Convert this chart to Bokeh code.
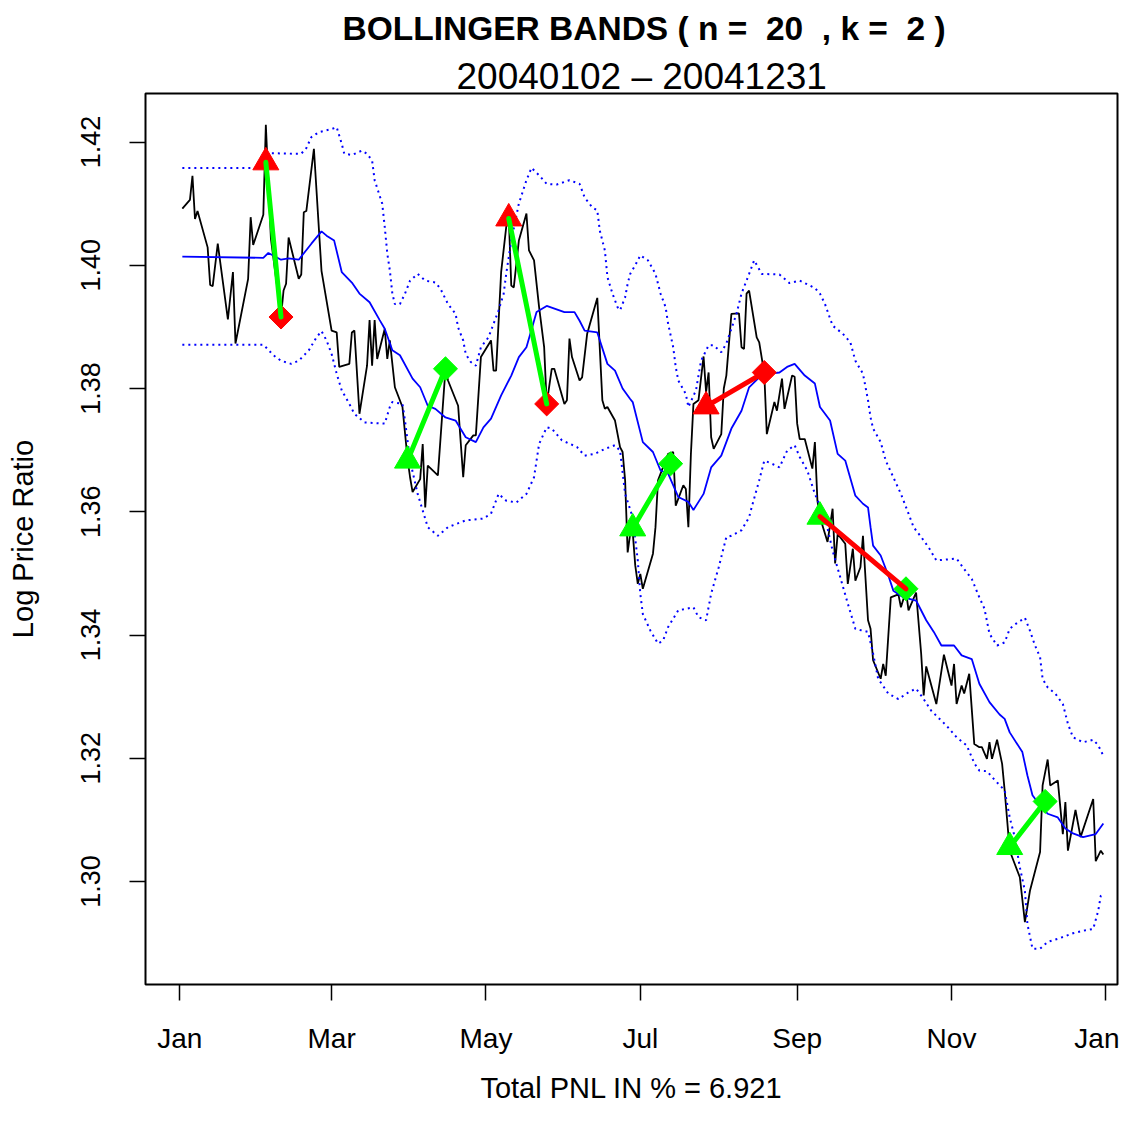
import numpy as np
import pandas as pd
from bokeh.plotting import figure
from bokeh.models import (Range1d, FixedTicker, DatetimeTickFormatter,
                          NumeralTickFormatter, Title)
from bokeh.embed import file_html
from bokeh.resources import INLINE

# ---------------- data ----------------
price_dates = [
    "2004-01-02", "2004-01-05", "2004-01-06", "2004-01-07", "2004-01-08", "2004-01-12", "2004-01-13",
    "2004-01-14", "2004-01-16", "2004-01-20", "2004-01-22", "2004-01-23", "2004-01-28", "2004-01-29",
    "2004-01-30", "2004-02-03", "2004-02-04", "2004-02-06", "2004-02-10", "2004-02-11", "2004-02-12",
    "2004-02-13", "2004-02-17", "2004-02-18", "2004-02-19", "2004-02-20", "2004-02-23", "2004-02-26",
    "2004-03-01", "2004-03-03", "2004-03-04", "2004-03-08", "2004-03-09", "2004-03-10", "2004-03-12",
    "2004-03-15", "2004-03-16", "2004-03-17", "2004-03-18", "2004-03-19", "2004-03-22", "2004-03-23",
    "2004-03-24", "2004-03-26", "2004-03-29", "2004-03-31", "2004-04-01", "2004-04-02", "2004-04-05",
    "2004-04-06", "2004-04-07", "2004-04-08", "2004-04-12", "2004-04-15", "2004-04-16", "2004-04-20",
    "2004-04-22", "2004-04-23", "2004-04-26", "2004-04-27", "2004-04-29", "2004-05-03", "2004-05-04",
    "2004-05-05", "2004-05-07", "2004-05-09", "2004-05-10", "2004-05-11", "2004-05-12", "2004-05-14",
    "2004-05-17", "2004-05-18", "2004-05-20", "2004-05-22", "2004-05-24", "2004-05-25", "2004-05-27",
    "2004-05-28", "2004-06-01", "2004-06-02", "2004-06-03", "2004-06-04", "2004-06-07", "2004-06-08",
    "2004-06-10", "2004-06-14", "2004-06-16", "2004-06-17", "2004-06-18", "2004-06-21", "2004-06-23",
    "2004-06-24", "2004-06-25", "2004-06-26", "2004-06-27", "2004-06-28", "2004-06-29", "2004-06-30",
    "2004-07-01", "2004-07-02", "2004-07-06", "2004-07-07", "2004-07-08", "2004-07-12", "2004-07-14",
    "2004-07-15", "2004-07-18", "2004-07-19", "2004-07-20", "2004-07-21", "2004-07-22", "2004-07-24",
    "2004-07-26", "2004-07-27", "2004-07-28", "2004-07-29", "2004-07-30", "2004-08-02", "2004-08-03",
    "2004-08-04", "2004-08-06", "2004-08-09", "2004-08-10", "2004-08-11", "2004-08-12", "2004-08-13",
    "2004-08-16", "2004-08-17", "2004-08-19", "2004-08-20", "2004-08-23", "2004-08-24", "2004-08-26",
    "2004-08-27", "2004-08-30", "2004-08-31", "2004-09-01", "2004-09-02", "2004-09-04", "2004-09-07",
    "2004-09-08", "2004-09-09", "2004-09-10", "2004-09-13", "2004-09-15", "2004-09-16", "2004-09-17",
    "2004-09-20", "2004-09-21", "2004-09-23", "2004-09-24", "2004-09-26", "2004-09-27", "2004-09-29",
    "2004-09-30", "2004-10-01", "2004-10-04", "2004-10-05", "2004-10-06", "2004-10-08", "2004-10-11",
    "2004-10-12", "2004-10-14", "2004-10-15", "2004-10-18", "2004-10-20", "2004-10-21", "2004-10-22",
    "2004-10-26", "2004-10-29", "2004-11-01", "2004-11-02", "2004-11-03", "2004-11-05", "2004-11-06",
    "2004-11-08", "2004-11-10", "2004-11-12", "2004-11-13", "2004-11-15", "2004-11-16", "2004-11-17",
    "2004-11-19", "2004-11-21", "2004-11-22", "2004-11-24", "2004-11-28", "2004-11-30", "2004-12-02",
    "2004-12-06", "2004-12-07", "2004-12-09", "2004-12-10", "2004-12-13", "2004-12-15", "2004-12-16",
    "2004-12-17", "2004-12-20", "2004-12-22", "2004-12-27", "2004-12-28", "2004-12-30", "2004-12-31",
]
price_values = [
    1.4092, 1.4106, 1.4145, 1.4075, 1.4088, 1.4029, 1.3968,
    1.3966, 1.4035, 1.3912, 1.3989, 1.3873, 1.3978, 1.4078,
    1.4033, 1.4082, 1.4228, 1.4043, 1.3917, 1.3959, 1.3970,
    1.4045, 1.3978, 1.3985, 1.4086, 1.4088, 1.4189, 1.3991,
    1.3894, 1.3891, 1.3835, 1.3840, 1.3891, 1.3894, 1.3759,
    1.3837, 1.3911, 1.3837, 1.3911, 1.3848, 1.3897, 1.3848,
    1.3878, 1.3802, 1.3770, 1.3686, 1.3656, 1.3632, 1.3653,
    1.3710, 1.3607, 1.3675, 1.3659, 1.3832, 1.3813, 1.3772,
    1.3656, 1.3708, 1.3724, 1.3724, 1.3851, 1.3878, 1.3829,
    1.3829, 1.3989, 1.4062, 1.4081, 1.3967, 1.3964, 1.4040,
    1.4084, 1.4024, 1.4008, 1.3932, 1.3867, 1.3775, 1.3832,
    1.3832, 1.3775, 1.3781, 1.3881, 1.3851, 1.3813, 1.3818,
    1.3889, 1.3947, 1.3781, 1.3767, 1.3770, 1.3748, 1.3705,
    1.3697, 1.3651, 1.3534, 1.3564, 1.3567, 1.3513, 1.3483,
    1.3499, 1.3475, 1.3532, 1.3575, 1.3651, 1.3694, 1.3697,
    1.3610, 1.3643, 1.3637, 1.3575, 1.3694, 1.3775, 1.3781,
    1.3852, 1.3794, 1.3826, 1.3721, 1.3702, 1.3726, 1.3800,
    1.3821, 1.3921, 1.3922, 1.3867, 1.3864, 1.3954, 1.3959,
    1.3883, 1.3875, 1.3824, 1.3726, 1.3778, 1.3764, 1.3816,
    1.3767, 1.3821, 1.3819, 1.3743, 1.3718, 1.3718, 1.3670,
    1.3713, 1.3618, 1.3591, 1.3551, 1.3605, 1.3516, 1.3564,
    1.3548, 1.3483, 1.3540, 1.3488, 1.3510, 1.3561, 1.3424,
    1.3410, 1.3359, 1.3329, 1.3353, 1.3334, 1.3461, 1.3466,
    1.3445, 1.3472, 1.3440, 1.3469, 1.3370, 1.3302, 1.3349,
    1.3288, 1.3368, 1.3318, 1.3353, 1.3288, 1.3318, 1.3305,
    1.3337, 1.3223, 1.3218, 1.3218, 1.3199, 1.3226, 1.3199,
    1.3230, 1.3191, 1.3148, 1.3050, 1.3007, 1.2934, 1.2985,
    1.3048, 1.3156, 1.3198, 1.3156, 1.3164, 1.3077, 1.3129,
    1.3050, 1.3116, 1.3072, 1.3134, 1.3033, 1.3050, 1.3044,
]

ma_dates = [
    "2004-01-02", "2004-02-03", "2004-02-05", "2004-02-10", "2004-02-13", "2004-02-17", "2004-02-22",
    "2004-02-26", "2004-02-28", "2004-03-02", "2004-03-05", "2004-03-09", "2004-03-12", "2004-03-16",
    "2004-03-20", "2004-03-22", "2004-03-25", "2004-03-28", "2004-04-02", "2004-04-05", "2004-04-08",
    "2004-04-11", "2004-04-15", "2004-04-19", "2004-04-23", "2004-04-27", "2004-04-30", "2004-05-03",
    "2004-05-07", "2004-05-11", "2004-05-14", "2004-05-17", "2004-05-21", "2004-05-25", "2004-06-01",
    "2004-06-05", "2004-06-07", "2004-06-09", "2004-06-14", "2004-06-18", "2004-06-21", "2004-06-24",
    "2004-06-27", "2004-06-28", "2004-07-02", "2004-07-06", "2004-07-09", "2004-07-12", "2004-07-16",
    "2004-07-20", "2004-07-22", "2004-07-26", "2004-07-29", "2004-08-02", "2004-08-06", "2004-08-10",
    "2004-08-13", "2004-08-17", "2004-08-21", "2004-08-25", "2004-08-28", "2004-08-31", "2004-09-04",
    "2004-09-08", "2004-09-10", "2004-09-14", "2004-09-17", "2004-09-20", "2004-09-24", "2004-09-27",
    "2004-09-29", "2004-09-30", "2004-10-01", "2004-10-04", "2004-10-07", "2004-10-09", "2004-10-13",
    "2004-10-18", "2004-10-22", "2004-10-25", "2004-10-28", "2004-11-02", "2004-11-05", "2004-11-09",
    "2004-11-12", "2004-11-16", "2004-11-20", "2004-11-22", "2004-11-24", "2004-11-29", "2004-12-01",
    "2004-12-03", "2004-12-05", "2004-12-09", "2004-12-13", "2004-12-16", "2004-12-19", "2004-12-23",
    "2004-12-28", "2004-12-31",
]
ma_values = [
    1.4014, 1.4012, 1.4020, 1.4009, 1.4011, 1.4009, 1.4035,
    1.4055, 1.4048, 1.4040, 1.3989, 1.3972, 1.3954, 1.3940,
    1.3911, 1.3897, 1.3862, 1.3854, 1.3816, 1.3802, 1.3772,
    1.3767, 1.3753, 1.3748, 1.3721, 1.3713, 1.3737, 1.3751,
    1.3789, 1.3821, 1.3851, 1.3867, 1.3924, 1.3934, 1.3924,
    1.3924, 1.3910, 1.3894, 1.3891, 1.3840, 1.3829, 1.3800,
    1.3783, 1.3778, 1.3713, 1.3697, 1.3667, 1.3662, 1.3624,
    1.3616, 1.3603, 1.3629, 1.3672, 1.3691, 1.3735, 1.3764,
    1.3802, 1.3818, 1.3824, 1.3826, 1.3835, 1.3840, 1.3821,
    1.3808, 1.3770, 1.3748, 1.3694, 1.3683, 1.3626, 1.3613,
    1.3607, 1.3575, 1.3545, 1.3529, 1.3497, 1.3472, 1.3461,
    1.3456, 1.3424, 1.3405, 1.3383, 1.3383, 1.3367, 1.3361,
    1.3321, 1.3291, 1.3271, 1.3264, 1.3242, 1.3210, 1.3172,
    1.3140, 1.3129, 1.3110, 1.3104, 1.3086, 1.3078, 1.3072,
    1.3077, 1.3094,
]

upper_dates = [
    "2004-01-02", "2004-02-03", "2004-02-04", "2004-02-15", "2004-02-18", "2004-02-20", "2004-02-22",
    "2004-02-25", "2004-03-01", "2004-03-03", "2004-03-05", "2004-03-06", "2004-03-09", "2004-03-13",
    "2004-03-15", "2004-03-17", "2004-03-18", "2004-03-21", "2004-03-22", "2004-03-23", "2004-03-24",
    "2004-03-25", "2004-03-26", "2004-03-28", "2004-03-30", "2004-04-01", "2004-04-04", "2004-04-07",
    "2004-04-11", "2004-04-13", "2004-04-16", "2004-04-19", "2004-04-20", "2004-04-22", "2004-04-23",
    "2004-04-25", "2004-04-27", "2004-04-29", "2004-05-02", "2004-05-04", "2004-05-06", "2004-05-08",
    "2004-05-09", "2004-05-11", "2004-05-14", "2004-05-17", "2004-05-19", "2004-05-22", "2004-05-25",
    "2004-05-29", "2004-06-03", "2004-06-07", "2004-06-09", "2004-06-12", "2004-06-14", "2004-06-15",
    "2004-06-17", "2004-06-18", "2004-06-20", "2004-06-22", "2004-06-23", "2004-06-25", "2004-06-26",
    "2004-06-27", "2004-06-29", "2004-07-01", "2004-07-04", "2004-07-07", "2004-07-09", "2004-07-11",
    "2004-07-12", "2004-07-14", "2004-07-15", "2004-07-16", "2004-07-19", "2004-07-20", "2004-07-23",
    "2004-07-25", "2004-07-28", "2004-07-30", "2004-08-02", "2004-08-04", "2004-08-08", "2004-08-10",
    "2004-08-13", "2004-08-15", "2004-08-18", "2004-08-25", "2004-08-29", "2004-09-02", "2004-09-08",
    "2004-09-10", "2004-09-12", "2004-09-15", "2004-09-19", "2004-09-22", "2004-09-24", "2004-09-27",
    "2004-09-29", "2004-09-30", "2004-10-01", "2004-10-04", "2004-10-06", "2004-10-09", "2004-10-12",
    "2004-10-15", "2004-10-17", "2004-10-20", "2004-10-23", "2004-10-26", "2004-11-03", "2004-11-06",
    "2004-11-09", "2004-11-12", "2004-11-14", "2004-11-16", "2004-11-19", "2004-11-22", "2004-11-24",
    "2004-11-26", "2004-11-30", "2004-12-02", "2004-12-04", "2004-12-06", "2004-12-07", "2004-12-09",
    "2004-12-12", "2004-12-15", "2004-12-17", "2004-12-19", "2004-12-23", "2004-12-27", "2004-12-29",
    "2004-12-31",
]
upper_values = [
    1.4158, 1.4158, 1.4182, 1.4181, 1.4181, 1.4190, 1.4208,
    1.4216, 1.4221, 1.4224, 1.4197, 1.4181, 1.4179, 1.4186,
    1.4181, 1.4170, 1.4138, 1.4100, 1.4062, 1.4019, 1.3992,
    1.3954, 1.3937, 1.3937, 1.3954, 1.3975, 1.3986, 1.3975,
    1.3972, 1.3962, 1.3937, 1.3921, 1.3899, 1.3878, 1.3856,
    1.3843, 1.3837, 1.3867, 1.3883, 1.3905, 1.3927, 1.3954,
    1.3986, 1.4040, 1.4100, 1.4138, 1.4158, 1.4146, 1.4132,
    1.4131, 1.4138, 1.4132, 1.4110, 1.4094, 1.4089, 1.4056,
    1.4024, 1.3981, 1.3954, 1.3932, 1.3927, 1.3948, 1.3970,
    1.3986, 1.4000, 1.4016, 1.4008, 1.3986, 1.3954, 1.3932,
    1.3905, 1.3867, 1.3835, 1.3813, 1.3791, 1.3770, 1.3797,
    1.3845, 1.3870, 1.3870, 1.3859, 1.3873, 1.3921, 1.3954,
    1.3986, 1.4008, 1.3986, 1.3985, 1.3971, 1.3975, 1.3963,
    1.3954, 1.3937, 1.3902, 1.3889, 1.3875, 1.3845, 1.3824,
    1.3781, 1.3753, 1.3735, 1.3713, 1.3683, 1.3656, 1.3629,
    1.3597, 1.3575, 1.3559, 1.3542, 1.3521, 1.3524, 1.3507,
    1.3491, 1.3461, 1.3443, 1.3402, 1.3383, 1.3388, 1.3410,
    1.3417, 1.3428, 1.3407, 1.3383, 1.3364, 1.3329, 1.3315,
    1.3305, 1.3288, 1.3256, 1.3234, 1.3226, 1.3230, 1.3221,
    1.3204,
]

lower_dates = [
    "2004-01-02", "2004-02-03", "2004-02-04", "2004-02-07", "2004-02-10", "2004-02-14", "2004-02-17",
    "2004-02-21", "2004-02-24", "2004-02-26", "2004-02-28", "2004-03-01", "2004-03-03", "2004-03-05",
    "2004-03-08", "2004-03-10", "2004-03-14", "2004-03-22", "2004-03-24", "2004-03-25", "2004-03-29",
    "2004-03-30", "2004-04-01", "2004-04-04", "2004-04-08", "2004-04-12", "2004-04-16", "2004-04-23",
    "2004-04-30", "2004-05-03", "2004-05-06", "2004-05-09", "2004-05-13", "2004-05-17", "2004-05-20",
    "2004-05-22", "2004-05-25", "2004-05-27", "2004-05-31", "2004-06-06", "2004-06-09", "2004-06-13",
    "2004-06-17", "2004-06-21", "2004-06-23", "2004-06-25", "2004-06-28", "2004-06-30", "2004-07-01",
    "2004-07-02", "2004-07-05", "2004-07-08", "2004-07-10", "2004-07-12", "2004-07-16", "2004-07-22",
    "2004-07-24", "2004-07-27", "2004-07-29", "2004-08-01", "2004-08-04", "2004-08-06", "2004-08-10",
    "2004-08-13", "2004-08-14", "2004-08-17", "2004-08-19", "2004-08-22", "2004-08-25", "2004-08-28",
    "2004-08-31", "2004-09-02", "2004-09-05", "2004-09-08", "2004-09-12", "2004-09-15", "2004-09-18",
    "2004-09-21", "2004-09-24", "2004-09-29", "2004-10-01", "2004-10-03", "2004-10-07", "2004-10-11",
    "2004-10-15", "2004-10-18", "2004-10-21", "2004-10-24", "2004-10-30", "2004-11-03", "2004-11-07",
    "2004-11-10", "2004-11-12", "2004-11-15", "2004-11-18", "2004-11-22", "2004-11-24", "2004-11-26",
    "2004-11-28", "2004-11-30", "2004-12-01", "2004-12-03", "2004-12-06", "2004-12-09", "2004-12-13",
    "2004-12-19", "2004-12-24", "2004-12-27", "2004-12-29", "2004-12-30", "2004-12-31",
]
lower_values = [
    1.3871, 1.3871, 1.3867, 1.3854, 1.3845, 1.3840, 1.3845,
    1.3862, 1.3883, 1.3893, 1.3878, 1.3856, 1.3824, 1.3797,
    1.3775, 1.3759, 1.3745, 1.3743, 1.3770, 1.3778, 1.3775,
    1.3748, 1.3683, 1.3629, 1.3575, 1.3561, 1.3575, 1.3586,
    1.3589, 1.3597, 1.3629, 1.3618, 1.3615, 1.3629, 1.3656,
    1.3710, 1.3737, 1.3735, 1.3716, 1.3705, 1.3691, 1.3694,
    1.3702, 1.3708, 1.3699, 1.3629, 1.3591, 1.3521, 1.3467,
    1.3434, 1.3407, 1.3386, 1.3391, 1.3413, 1.3440, 1.3445,
    1.3429, 1.3424, 1.3467, 1.3510, 1.3559, 1.3561, 1.3570,
    1.3591, 1.3607, 1.3651, 1.3683, 1.3678, 1.3672, 1.3699,
    1.3708, 1.3689, 1.3667, 1.3629, 1.3591, 1.3537, 1.3494,
    1.3451, 1.3410, 1.3405, 1.3370, 1.3329, 1.3305, 1.3296,
    1.3307, 1.3313, 1.3296, 1.3277, 1.3253, 1.3234, 1.3221,
    1.3192, 1.3180, 1.3179, 1.3165, 1.3148, 1.3104, 1.3072,
    1.3023, 1.2985, 1.2931, 1.2891, 1.2891, 1.2902, 1.2907,
    1.2916, 1.2921, 1.2923, 1.2953, 1.2977, 1.2980,
]

# trades: entry / exit
trade_side = ["short", "long", "short", "long", "short", "long", "long"]
entry_dates = ["2004-02-04", "2004-03-31", "2004-05-10", "2004-06-28", "2004-07-27", "2004-09-10", "2004-11-24"]
entry_values = [1.4167, 1.3683, 1.4076, 1.3573, 1.3771, 1.3592, 1.3056]
exit_dates = ["2004-02-10", "2004-04-15", "2004-05-25", "2004-07-13", "2004-08-19", "2004-10-14", "2004-12-08"]
exit_values = [1.3916, 1.3832, 1.3775, 1.3678, 1.3826, 1.3475, 1.3130]

x_tick_dates = ["2004-01-01", "2004-03-01", "2004-05-01", "2004-07-01", "2004-09-01", "2004-11-01", "2005-01-01"]
y_ticks = [1.30, 1.32, 1.34, 1.36, 1.38, 1.40, 1.42]

# (R pastes double spaces around the numbers; a no-break space keeps them visible)
title_text = "BOLLINGER BANDS ( n = \u00a020 \u00a0, k = \u00a02 )"
subtitle_text = "20040102 \u2013 20041231"
x_label = "Total PNL IN % = 6.921"
y_label = "Log Price Ratio"

# ---------------- build chart ----------------
FONT = "Liberation Sans"
EPOCH = pd.Timestamp("1970-01-01")


def to_ms(ts):
    return (pd.Timestamp(ts) - EPOCH) / pd.Timedelta(milliseconds=1)


def dts(lst):
    return pd.to_datetime(lst)


origin = pd.Timestamp("2004-01-01")
x_start = to_ms(origin - pd.Timedelta(days=13.56))
x_end = to_ms(origin + pd.Timedelta(days=370.6))

p = figure(width=1119, height=1107, x_axis_type="datetime",
           x_range=Range1d(x_start, x_end), y_range=Range1d(1.28329, 1.42787),
           output_backend="svg", toolbar_location=None, title=None,
           min_border_left=145, min_border_right=2, min_border_top=93,
           min_border_bottom=123)

p.add_layout(Title(text=subtitle_text, align="left", offset=311, text_font=FONT,
                   text_font_size="37px", text_font_style="normal",
                   text_color="black", standoff=-7), "above")
p.add_layout(Title(text=title_text, align="left", offset=197, text_font=FONT,
                   text_font_size="33.5px", text_font_style="bold",
                   text_color="black", standoff=18, vertical_align="top"), "above")

p.background_fill_color = "white"
p.border_fill_color = "white"
p.outline_line_color = "black"
p.outline_line_width = 2
p.xgrid.visible = False
p.ygrid.visible = False

p.xaxis.ticker = FixedTicker(ticks=[to_ms(d) for d in x_tick_dates])
p.xaxis.formatter = DatetimeTickFormatter(
    milliseconds="%b", seconds="%b", minsec="%b", minutes="%b", hourmin="%b",
    hours="%b", days="%b", months="%b", years="%b")
p.yaxis.ticker = FixedTicker(ticks=y_ticks)
p.yaxis.formatter = NumeralTickFormatter(format="0.00")
p.yaxis.major_label_orientation = "vertical"

for ax in (p.xaxis[0], p.yaxis[0]):
    ax.axis_line_color = None
    ax.major_tick_out = 16
    ax.major_tick_in = 0
    ax.minor_tick_out = 0
    ax.minor_tick_in = 0
    ax.major_tick_line_color = "black"
    ax.major_tick_line_width = 1.5
    ax.major_label_text_font = FONT
    ax.major_label_text_color = "black"
    ax.axis_label_text_font = FONT
    ax.axis_label_text_font_size = "29px"
    ax.axis_label_text_font_style = "normal"
    ax.axis_label_text_color = "black"

p.xaxis.major_label_text_font_size = "28px"
p.yaxis.major_label_text_font_size = "27px"
p.xaxis.axis_label = x_label
p.yaxis.axis_label = y_label
p.xaxis.major_label_standoff = 22
p.xaxis.axis_label_standoff = 15
p.yaxis.major_label_standoff = 29
p.yaxis.axis_label_standoff = 40

# price, moving average and bands
p.line(dts(price_dates), price_values, line_color="black", line_width=1.8)
p.line(dts(ma_dates), ma_values, line_color="blue", line_width=1.8)
p.line(dts(upper_dates), upper_values, line_color="blue", line_width=2, line_dash="2 4")
p.line(dts(lower_dates), lower_values, line_color="blue", line_width=2, line_dash="2 4")

# trades
side_color = {"short": "#FF0000", "long": "#00FF00"}
marker_colors = [side_color[s] for s in trade_side]
profit = [(ex - en) * (1 if s == "long" else -1) for s, en, ex in zip(trade_side, entry_values, exit_values)]
seg_colors = ["#00FF00" if v > 0 else "#FF0000" for v in profit]

p.scatter(dts(entry_dates), entry_values, marker="triangle", size=26,
          fill_color=marker_colors, line_color=marker_colors)
p.scatter(dts(exit_dates), exit_values, marker="square", angle=np.pi / 4, size=17,
          fill_color=marker_colors, line_color=marker_colors)
p.segment(x0=dts(entry_dates), y0=entry_values, x1=dts(exit_dates), y1=exit_values,
          line_color=seg_colors, line_width=5, line_cap="round")

open("out.html", "w").write(file_html(p, INLINE))
